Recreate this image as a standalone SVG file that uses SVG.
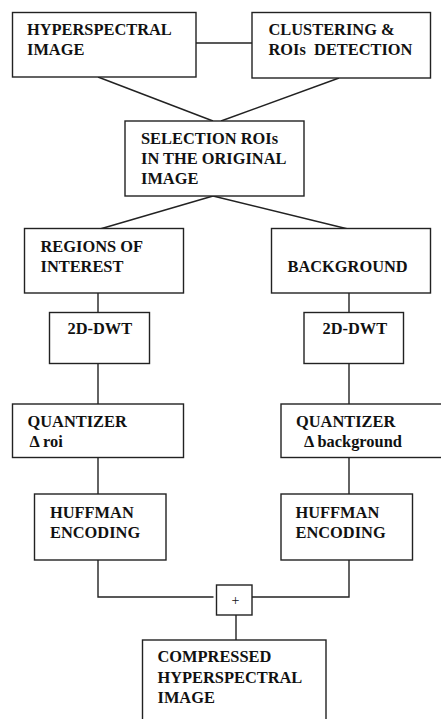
<svg xmlns="http://www.w3.org/2000/svg" width="441" height="719" viewBox="0 0 441 719">
<style>
.box{fill:#fff;stroke:#222;stroke-width:1.4}
.ln{fill:none;stroke:#222;stroke-width:1.4}
text{font-family:'Liberation Serif','DejaVu Serif',serif;font-weight:700;font-size:16.4px;fill:#111}
.plus{font-weight:400;font-size:14px}
</style>
<rect width="441" height="719" fill="#fff"/>
<g id="connectors">
<line class="ln" x1="196" y1="43" x2="252" y2="43"/>
<line class="ln" x1="98" y1="77" x2="213" y2="121"/>
<line class="ln" x1="339" y1="78" x2="221" y2="121"/>
<line class="ln" x1="213" y1="196" x2="100" y2="229"/>
<line class="ln" x1="213" y1="196" x2="348" y2="229"/>
<line class="ln" x1="98" y1="293" x2="98" y2="312"/>
<line class="ln" x1="349" y1="293" x2="349" y2="312"/>
<line class="ln" x1="98" y1="363" x2="98" y2="404"/>
<line class="ln" x1="349" y1="363" x2="349" y2="404"/>
<line class="ln" x1="98" y1="458" x2="98" y2="494"/>
<line class="ln" x1="349" y1="458" x2="349" y2="494"/>
<polyline class="ln" points="98,560 98,597 213.5,597"/>
<polyline class="ln" points="252,597 349,597 349,560"/>
<line class="ln" x1="236" y1="615" x2="236" y2="640"/>
</g>
<g id="hyperspectral">
<rect class="box" x="12.5" y="12.5" width="183.5" height="64.5"/>
<text x="27" y="35">HYPERSPECTRAL</text>
<text x="27" y="55">IMAGE</text>
</g>
<g id="clustering">
<rect class="box" x="252" y="12.5" width="178.5" height="65.5"/>
<text x="268.5" y="35">CLUSTERING &amp;</text>
<text x="268.5" y="55" xml:space="preserve">ROIs  DETECTION</text>
</g>
<g id="selection">
<rect class="box" x="125" y="121" width="179" height="75"/>
<text x="141" y="143.5">SELECTION ROIs</text>
<text x="141" y="164">IN THE ORIGINAL</text>
<text x="141" y="184">IMAGE</text>
</g>
<g id="roi">
<rect class="box" x="24.5" y="228.5" width="159" height="64.5"/>
<text x="40.5" y="251.5">REGIONS OF</text>
<text x="40.5" y="271.5">INTEREST</text>
</g>
<g id="background">
<rect class="box" x="271.5" y="228.5" width="159" height="64.5"/>
<text x="287.5" y="271.5">BACKGROUND</text>
</g>
<g id="dwt-left">
<rect class="box" x="49.5" y="312.5" width="100" height="51"/>
<text x="67.5" y="333.5">2D-DWT</text>
</g>
<g id="dwt-right">
<rect class="box" x="304" y="312.5" width="99.5" height="51"/>
<text x="322.5" y="333.5">2D-DWT</text>
</g>
<g id="quant-left">
<rect class="box" x="12.5" y="404" width="171" height="53.5"/>
<text x="27.5" y="426.5">QUANTIZER</text>
<text x="29.5" y="446.5">Δ roi</text>
</g>
<g id="quant-right">
<rect class="box" x="281" y="404" width="162" height="53.5"/>
<text x="296" y="426.5">QUANTIZER</text>
<text x="304" y="446.5">Δ background</text>
</g>
<g id="huff-left">
<rect class="box" x="34.5" y="494" width="131.5" height="66"/>
<text x="50" y="517.5">HUFFMAN</text>
<text x="50" y="537.5">ENCODING</text>
</g>
<g id="huff-right">
<rect class="box" x="281" y="494" width="131.5" height="66"/>
<text x="295.5" y="517.5">HUFFMAN</text>
<text x="295.5" y="537.5">ENCODING</text>
</g>
<g id="plus">
<rect class="box" x="216.5" y="585" width="35.5" height="30"/>
<text class="plus" x="235.5" y="605" text-anchor="middle">+</text>
</g>
<g id="compressed">
<rect class="box" x="142.5" y="640" width="183.5" height="82"/>
<text x="157.5" y="661.5">COMPRESSED</text>
<text x="157.5" y="682.5">HYPERSPECTRAL</text>
<text x="157.5" y="702.5">IMAGE</text>
</g>
</svg>
